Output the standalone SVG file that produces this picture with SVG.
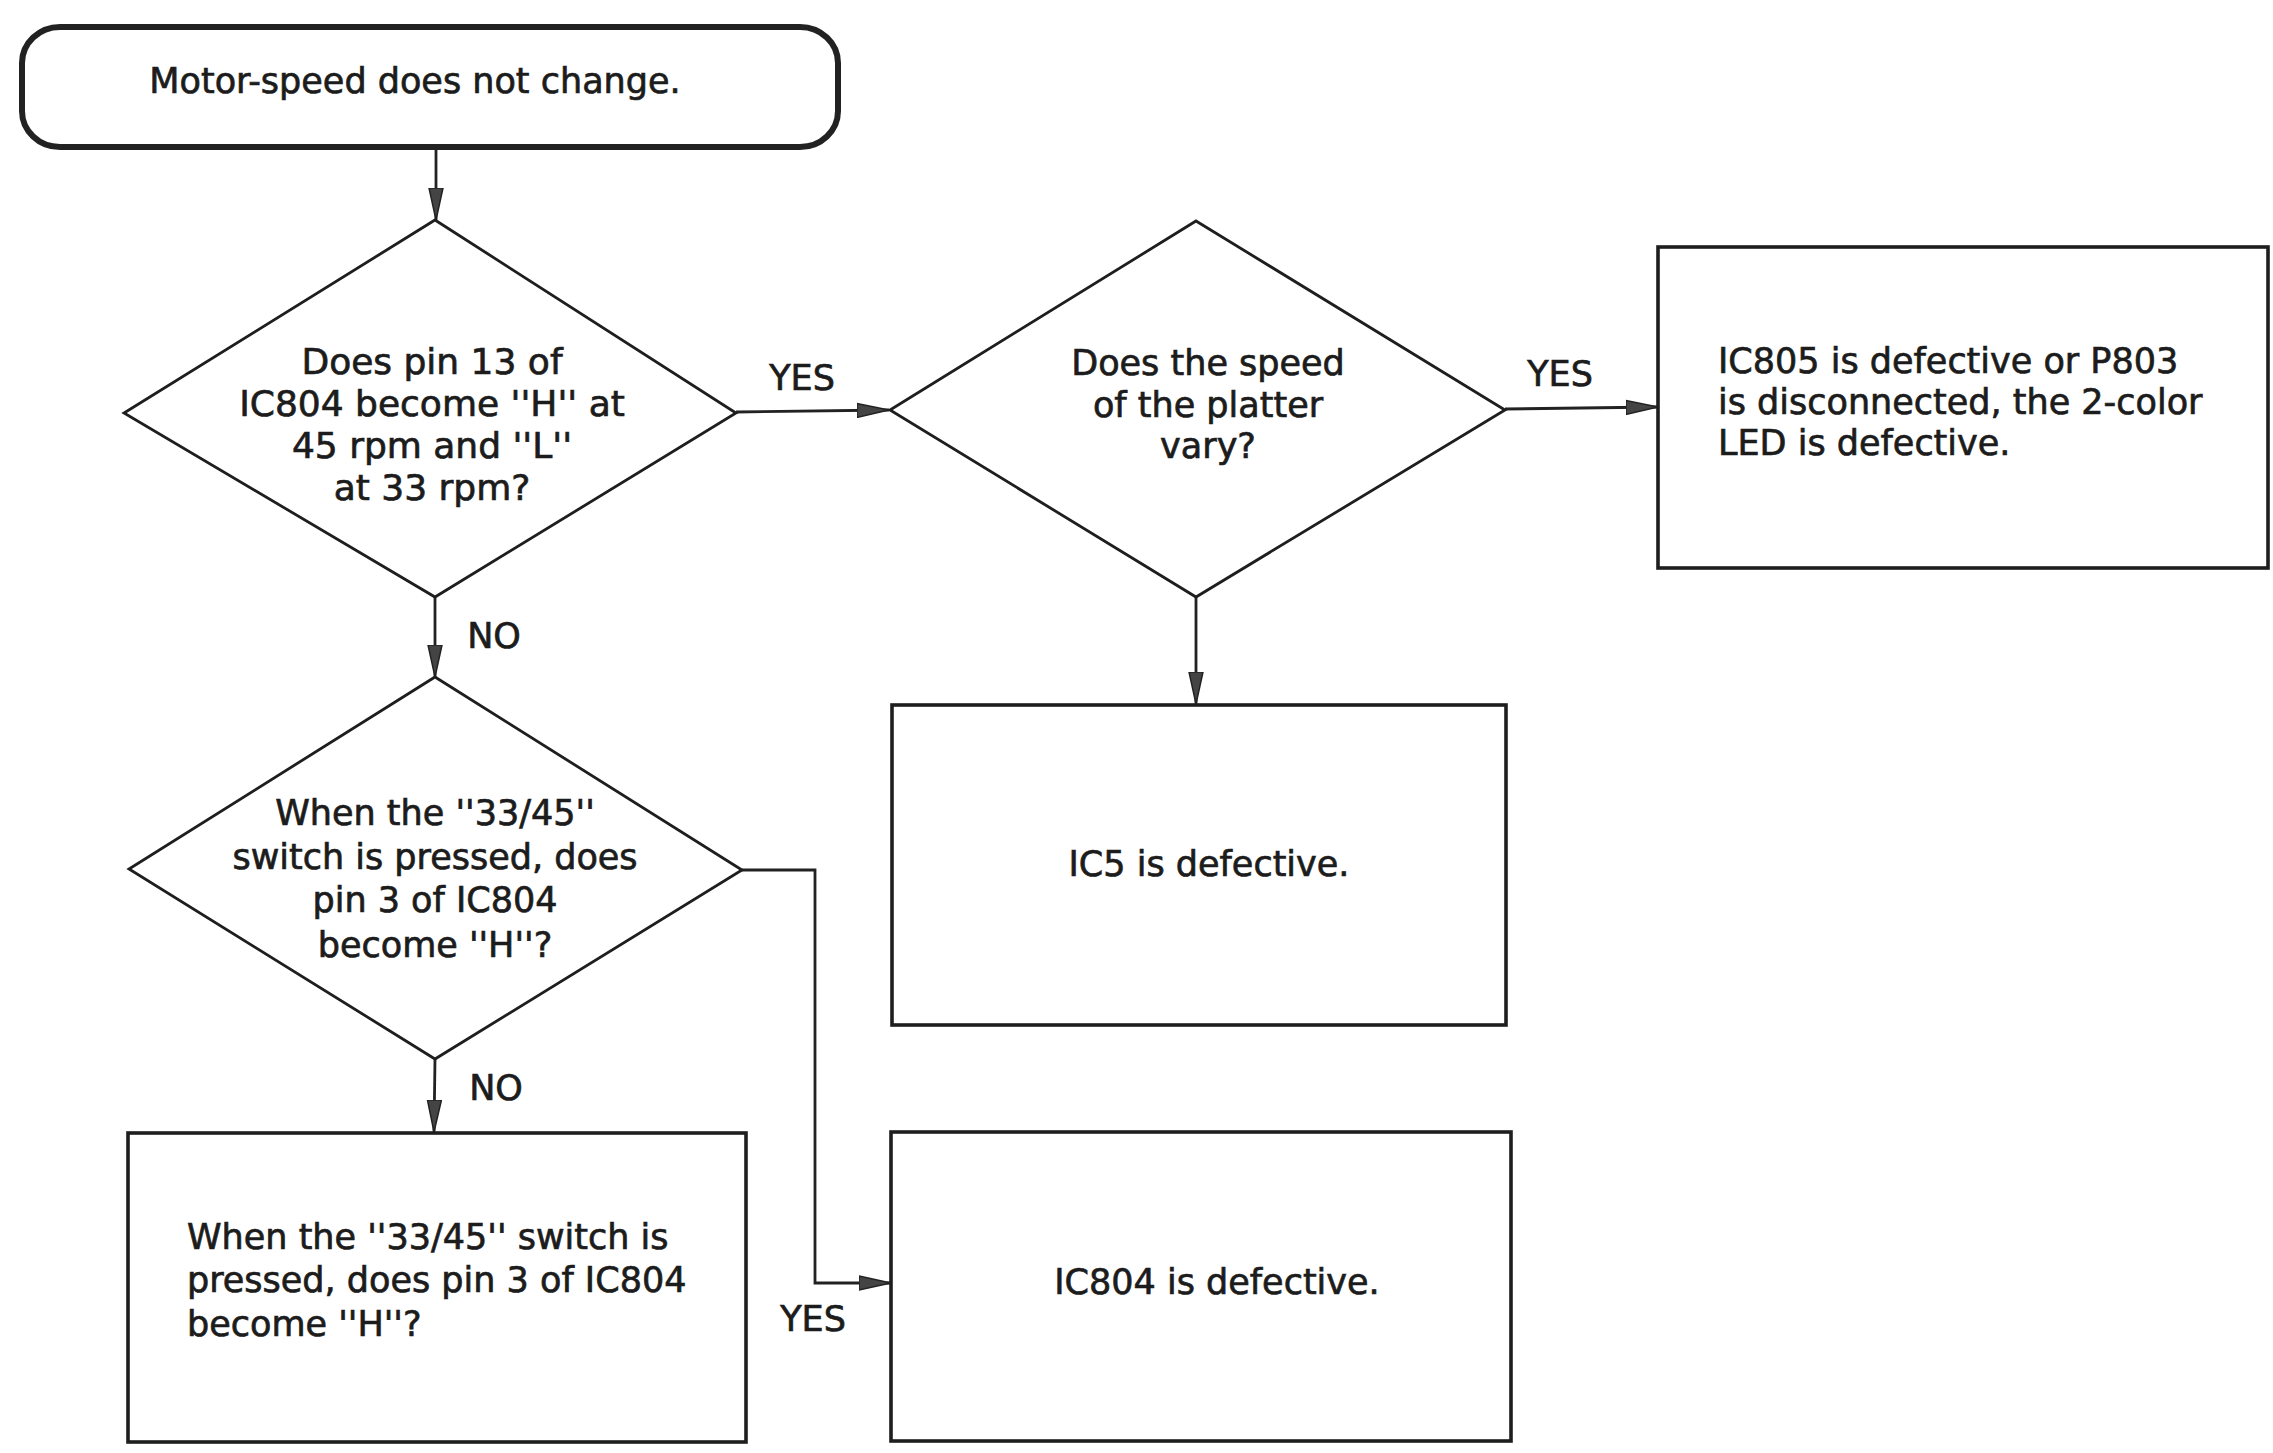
<svg xmlns="http://www.w3.org/2000/svg" width="2273" height="1453" viewBox="0 0 2273 1453">
<style>
text{font-family:"DejaVu Sans","Liberation Sans",Arial,sans-serif;font-size:35px;fill:#1c1c1c;stroke:#1c1c1c;stroke-width:0.7px}
.c{text-anchor:middle}
.box{fill:#fff;stroke:#1e1e1e;stroke-width:3.6}
.dia{fill:#fff;stroke:#1e1e1e;stroke-width:2.8;stroke-linejoin:miter}
.ln{fill:none;stroke:#222;stroke-width:2.8}
.arr{marker-end:url(#ah)}
</style>
<defs>
<marker id="ah" viewBox="0 0 32 16" refX="32" refY="8" markerWidth="32" markerHeight="16" markerUnits="userSpaceOnUse" orient="auto">
<path d="M0,1 L32,8 L0,15 Z" fill="#444" stroke="#222" stroke-width="1.5"/>
</marker>
</defs>
<rect width="2273" height="1453" fill="#fff"/>
<g id="connectors">
<path class="ln arr" d="M436,150 L436,220"/>
<path class="ln arr" d="M736,412 L889,410"/>
<path class="ln arr" d="M1505,409 L1658,407"/>
<path class="ln arr" d="M1196,597 L1196,704"/>
<path class="ln arr" d="M435,597 L435,677"/>
<path class="ln arr" d="M435,1059 L434,1132"/>
<path class="ln arr" d="M742,870 L815,870 L815,1283 L891,1283"/>
<text x="802" y="390" class="c">YES</text>
<text x="1560" y="386" class="c">YES</text>
<text x="494" y="648" class="c">NO</text>
<text x="496" y="1100" class="c">NO</text>
<text x="813" y="1331" class="c">YES</text>
</g>
<g id="start">
<rect x="22" y="27" width="816" height="120" rx="38" ry="36" fill="#fff" stroke="#222" stroke-width="6"/>
<text x="415" y="93" class="c">Motor-speed does not change.</text>
</g>
<g id="decision1">
<polygon class="dia" points="435,220 736,413 435,597 124,413"/>
<text class="c" style="font-size:36px" x="432" y="374">Does pin 13 of</text>
<text class="c" style="font-size:36px" x="432" y="416">IC804 become ''H'' at</text>
<text class="c" style="font-size:36px" x="432" y="458">45 rpm and ''L''</text>
<text class="c" style="font-size:36px" x="432" y="500">at 33 rpm?</text>
</g>
<g id="decision2">
<polygon class="dia" points="1196,221 1505,410 1196,597 890,410"/>
<text class="c" x="1208" y="375">Does the speed</text>
<text class="c" x="1208" y="417">of the platter</text>
<text class="c" x="1208" y="458">vary?</text>
</g>
<g id="ic805">
<rect class="box" x="1658" y="247" width="610" height="321"/>
<text x="1718" y="373">IC805 is defective or P803</text>
<text x="1718" y="414">is disconnected, the 2-color</text>
<text x="1718" y="455">LED is defective.</text>
</g>
<g id="ic5">
<rect class="box" x="892" y="705" width="614" height="320"/>
<text class="c" x="1209" y="876">IC5 is defective.</text>
</g>
<g id="decision3">
<polygon class="dia" points="435,677 742,870 435,1059 129,869"/>
<text class="c" x="435" y="825">When the ''33/45''</text>
<text class="c" x="435" y="869">switch is pressed, does</text>
<text class="c" x="435" y="912">pin 3 of IC804</text>
<text class="c" x="435" y="957">become ''H''?</text>
</g>
<g id="check">
<rect class="box" x="128" y="1133" width="618" height="309"/>
<text x="187" y="1249">When the ''33/45'' switch is</text>
<text x="187" y="1292">pressed, does pin 3 of IC804</text>
<text x="187" y="1336">become ''H''?</text>
</g>
<g id="ic804">
<rect class="box" x="891" y="1132" width="620" height="309"/>
<text class="c" x="1217" y="1294">IC804 is defective.</text>
</g>
</svg>
